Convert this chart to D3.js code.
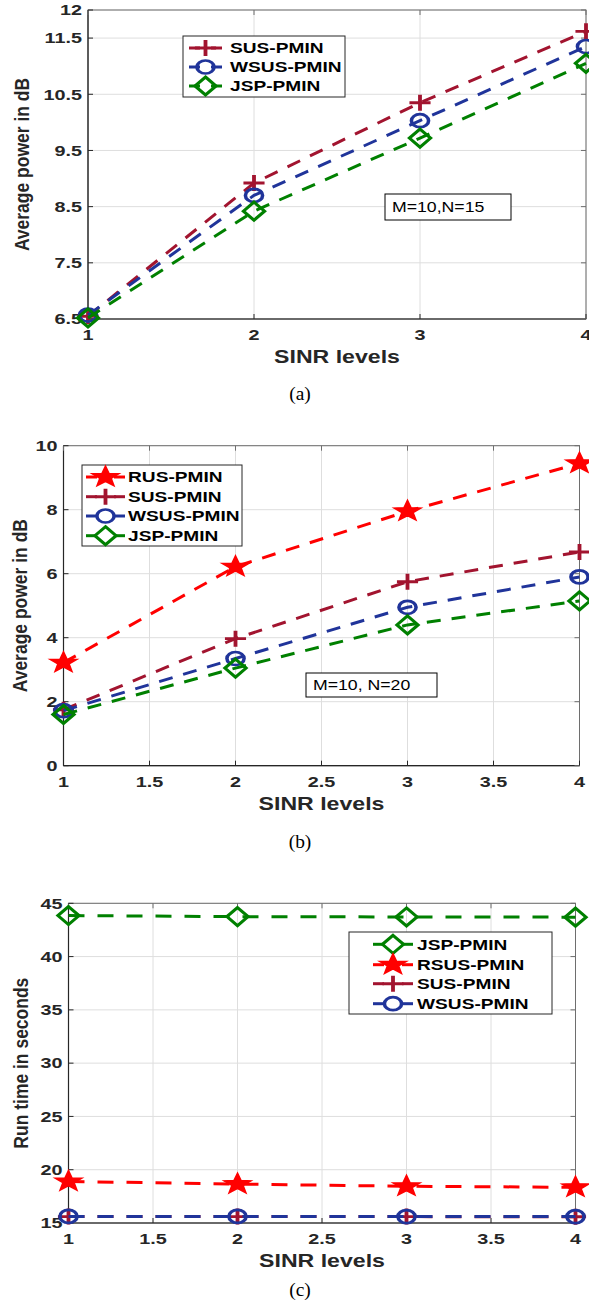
<!DOCTYPE html>
<html>
<head>
<meta charset="utf-8">
<script src="https://cdn.jsdelivr.net/npm/d3@7/dist/d3.min.js"></script>
<style>
  body { margin: 0; background: #fff; }
  svg { display: block; }
</style>
</head>
<body>
<svg id="fig" width="589" height="1306"></svg>
<script>
// x values, shared by all panels
var sinr = [1, 2, 3, 4];

// (a) M=10, N=15
var susA  = [6.55, 8.92, 10.35, 11.62];
var wsusA = [6.57, 8.70, 10.03, 11.35];
var jspA  = [6.52, 8.42, 9.72, 11.05];
var xTicksA = [1, 2, 3, 4];
var yTicksA = [6.5, 7.5, 8.5, 9.5, 10.5, 11.5, 12];

// (b) M=10, N=20
var rusB  = [3.22, 6.22, 7.95, 9.45];
var susB  = [1.75, 3.97, 5.75, 6.68];
var wsusB = [1.72, 3.35, 4.95, 5.90];
var jspB  = [1.60, 3.05, 4.40, 5.15];
var xTicksB = [1, 1.5, 2, 2.5, 3, 3.5, 4];
var yTicksB = [0, 2, 4, 6, 8, 10];

// (c) run time
var jspC  = [43.85, 43.75, 43.72, 43.70];
var rsusC = [18.90, 18.65, 18.45, 18.35];
var susC  = [15.60, 15.60, 15.60, 15.58];
var wsusC = [15.62, 15.62, 15.60, 15.60];
var xTicksC = [1, 1.5, 2, 2.5, 3, 3.5, 4];
var yTicksC = [15, 20, 25, 30, 35, 40, 45];

var COL = { sus: "#a2142f", wsus: "#20349a", jsp: "#008000", rus: "#ff0000" };
var SX = 1.32;   // the original figure is stretched sideways
var FONT = "'Liberation Sans', Arial, Helvetica, sans-serif";
var TXT = "#262626";

var svg = d3.select("#fig");
svg.append("rect").attr("width", 589).attr("height", 1306).attr("fill", "#fff");

function stext(g, x, y, str, o) {
  o = o || {};
  return g.append("text")
    .attr("transform", "translate(" + x + "," + y + ") scale(" + (o.sx || SX) + ",1)" + (o.rot ? " rotate(" + o.rot + ")" : ""))
    .attr("text-anchor", o.anchor || "middle")
    .attr("dy", o.dy || 0)
    .attr("font-family", o.family || FONT)
    .attr("font-weight", o.weight || "bold")
    .attr("font-size", o.size || 15)
    .attr("fill", o.fill || TXT)
    .text(str);
}

function starPath(R, r) {
  var p = [];
  for (var i = 0; i < 10; i++) {
    var a = -Math.PI / 2 + i * Math.PI / 5, rr = i % 2 ? r : R;
    p.push([rr * Math.cos(a), rr * Math.sin(a)]);
  }
  return "M" + p.map(function (d) { return d[0].toFixed(2) + "," + d[1].toFixed(2); }).join("L") + "Z";
}

function marker(g, type, color, x, y) {
  var m = g.append("g").attr("transform", "translate(" + x + "," + y + ") scale(" + SX + ",1)");
  if (type == "circle") {
    m.append("circle").attr("r", 6.5).attr("fill", "none").attr("stroke", color).attr("stroke-width", 2.7);
  } else if (type == "diamond") {
    m.append("path").attr("d", "M0,-9L8,0L0,9L-8,0Z").attr("fill", "none").attr("stroke", color).attr("stroke-width", 2.7);
  } else if (type == "plus") {
    m.append("path").attr("d", "M-8,0H8M0,-8V8").attr("fill", "none").attr("stroke", color).attr("stroke-width", 2.9);
  } else if (type == "star") {
    m.append("path").attr("d", starPath(10.5, 4.3)).attr("fill", color).attr("stroke", color).attr("stroke-width", 1.5);
  }
}

function panel(cfg) {
  var g = svg.append("g");
  var x = d3.scaleLinear().domain(cfg.xDomain).range([cfg.left, cfg.right]);
  var y = d3.scaleLinear().domain(cfg.yDomain).range([cfg.bottom, cfg.top]);

  // grid
  g.selectAll(".gx").data(cfg.xTicks).enter().append("line")
    .attr("x1", function (d) { return x(d); }).attr("x2", function (d) { return x(d); })
    .attr("y1", cfg.top).attr("y2", cfg.bottom)
    .attr("stroke", "#dedede").attr("stroke-width", 1);
  g.selectAll(".gy").data(cfg.yTicks).enter().append("line")
    .attr("y1", function (d) { return y(d); }).attr("y2", function (d) { return y(d); })
    .attr("x1", cfg.left).attr("x2", cfg.right)
    .attr("stroke", "#dedede").attr("stroke-width", 1);

  // box + inward ticks
  g.append("rect").attr("x", cfg.left).attr("y", cfg.top)
    .attr("width", cfg.right - cfg.left).attr("height", cfg.bottom - cfg.top)
    .attr("fill", "none").attr("stroke", "#6e6e6e").attr("stroke-width", 1);
  g.append("line").attr("x1", cfg.left).attr("x2", cfg.left).attr("y1", cfg.top).attr("y2", cfg.bottom)
    .attr("stroke", "#262626").attr("stroke-width", 1.2);
  g.append("line").attr("x1", cfg.left).attr("x2", cfg.right).attr("y1", cfg.bottom).attr("y2", cfg.bottom)
    .attr("stroke", "#262626").attr("stroke-width", 1.2);
  var tk = 5;
  cfg.xTicks.forEach(function (d) {
    g.append("line").attr("x1", x(d)).attr("x2", x(d)).attr("y1", cfg.bottom).attr("y2", cfg.bottom - tk).attr("stroke", "#262626");
    g.append("line").attr("x1", x(d)).attr("x2", x(d)).attr("y1", cfg.top).attr("y2", cfg.top + tk).attr("stroke", "#6e6e6e");
    stext(g, x(d), cfg.bottom + 21, String(d), { size: 15 });
  });
  cfg.yTicks.forEach(function (d) {
    g.append("line").attr("y1", y(d)).attr("y2", y(d)).attr("x1", cfg.left).attr("x2", cfg.left + tk).attr("stroke", "#262626");
    g.append("line").attr("y1", y(d)).attr("y2", y(d)).attr("x1", cfg.right).attr("x2", cfg.right - tk).attr("stroke", "#6e6e6e");
    stext(g, cfg.left - 6, y(d), String(d), { size: 15, anchor: "end", dy: "0.35em" });
  });

  // series
  var line = d3.line().x(function (d) { return x(d[0]); }).y(function (d) { return y(d[1]); });
  cfg.series.forEach(function (s) {
    var pts = sinr.map(function (v, i) { return [v, s.values[i]]; });
    g.append("path").attr("d", line(pts)).attr("fill", "none")
      .attr("stroke", s.color).attr("stroke-width", 3).attr("stroke-dasharray", cfg.dash);
    pts.forEach(function (p) { marker(g, s.marker, s.color, x(p[0]), y(p[1])); });
  });

  // legend
  var L = cfg.legend;
  g.append("rect").attr("x", L.x0).attr("y", L.y0).attr("width", L.x1 - L.x0).attr("height", L.y1 - L.y0)
    .attr("fill", "#fff").attr("stroke", "#262626").attr("stroke-width", 1);
  L.order.forEach(function (s, i) {
    var ry = L.rows[i];
    var mx = (L.lx0 + L.lx1) / 2;
    g.append("line").attr("x1", L.lx0).attr("x2", L.lx0 + 11).attr("y1", ry).attr("y2", ry)
      .attr("stroke", s.color).attr("stroke-width", 3);
    g.append("line").attr("x1", L.lx1 - 11).attr("x2", L.lx1).attr("y1", ry).attr("y2", ry)
      .attr("stroke", s.color).attr("stroke-width", 3);
    marker(g, s.marker, s.color, mx, ry);
    stext(g, L.tx, ry, s.name, { size: 14.5, anchor: "start", dy: "0.36em", fill: "#000" });
  });

  // annotation
  if (cfg.note) {
    var n = cfg.note;
    g.append("rect").attr("x", n.x0).attr("y", n.y0).attr("width", n.x1 - n.x0).attr("height", n.y1 - n.y0)
      .attr("fill", "#fff").attr("stroke", "#000").attr("stroke-width", 1);
    stext(g, n.x0 + 7, (n.y0 + n.y1) / 2, n.text, { size: 14.5, anchor: "start", dy: "0.36em", weight: "normal", fill: "#000", sx: 1.22 });
  }

  // axis titles and caption
  stext(g, (cfg.left + cfg.right) / 2, cfg.bottom + 44, "SINR levels", { size: 17.5 });
  stext(g, cfg.ylabX, (cfg.top + cfg.bottom) / 2, cfg.ylabel, { size: 17.5, rot: -90, sx: 1.12 });
  stext(g, 300, cfg.capY, cfg.caption, { size: 18.5, weight: "normal", family: "'Liberation Serif', 'Times New Roman', serif", fill: "#000", sx: 1.05 });
}

var sA = [
  { name: "SUS-PMIN", values: susA, color: COL.sus, marker: "plus" },
  { name: "WSUS-PMIN", values: wsusA, color: COL.wsus, marker: "circle" },
  { name: "JSP-PMIN", values: jspA, color: COL.jsp, marker: "diamond" }
];
panel({
  left: 88, right: 586, top: 10, bottom: 319,
  xDomain: [1, 4], yDomain: [6.5, 12], xTicks: xTicksA, yTicks: yTicksA,
  series: sA, dash: "14,11",
  legend: { x0: 183, x1: 345, y0: 36, y1: 97, rows: [48, 67, 86], lx0: 189, lx1: 222, tx: 230, order: sA },
  note: { x0: 385, x1: 511, y0: 194, y1: 220, text: "M=10,N=15" },
  ylabel: "Average power in dB", ylabX: 29, capY: 400, caption: "(a)"
});

var sB = [
  { name: "RUS-PMIN", values: rusB, color: COL.rus, marker: "star" },
  { name: "SUS-PMIN", values: susB, color: COL.sus, marker: "plus" },
  { name: "WSUS-PMIN", values: wsusB, color: COL.wsus, marker: "circle" },
  { name: "JSP-PMIN", values: jspB, color: COL.jsp, marker: "diamond" }
];
panel({
  left: 63.5, right: 579.5, top: 445.7, bottom: 765.7,
  xDomain: [1, 4], yDomain: [0, 10], xTicks: xTicksB, yTicks: yTicksB,
  series: sB, dash: "14,11",
  legend: { x0: 82, x1: 242, y0: 465, y1: 546, rows: [477, 496.7, 516, 535.7], lx0: 86, lx1: 125, tx: 128, order: sB },
  note: { x0: 306, x1: 437, y0: 673, y1: 697, text: "M=10, N=20" },
  ylabel: "Average power in dB", ylabX: 27, capY: 848, caption: "(b)"
});

var sC = [
  { name: "JSP-PMIN", values: jspC, color: COL.jsp, marker: "diamond" },
  { name: "RSUS-PMIN", values: rsusC, color: COL.rus, marker: "star" },
  { name: "SUS-PMIN", values: susC, color: COL.sus, marker: "plus" },
  { name: "WSUS-PMIN", values: wsusC, color: COL.wsus, marker: "circle" }
];
panel({
  left: 68.5, right: 575.5, top: 903.3, bottom: 1223,
  xDomain: [1, 4], yDomain: [15, 45], xTicks: xTicksC, yTicks: yTicksC,
  series: sC, dash: "16,13",
  legend: { x0: 349, x1: 552, y0: 932, y1: 1014, rows: [944.3, 964.7, 983.7, 1003.7], lx0: 373, lx1: 413, tx: 417, order: sC },
  ylabel: "Run time in seconds", ylabX: 28, capY: 1296, caption: "(c)"
});
</script>
</body>
</html>
